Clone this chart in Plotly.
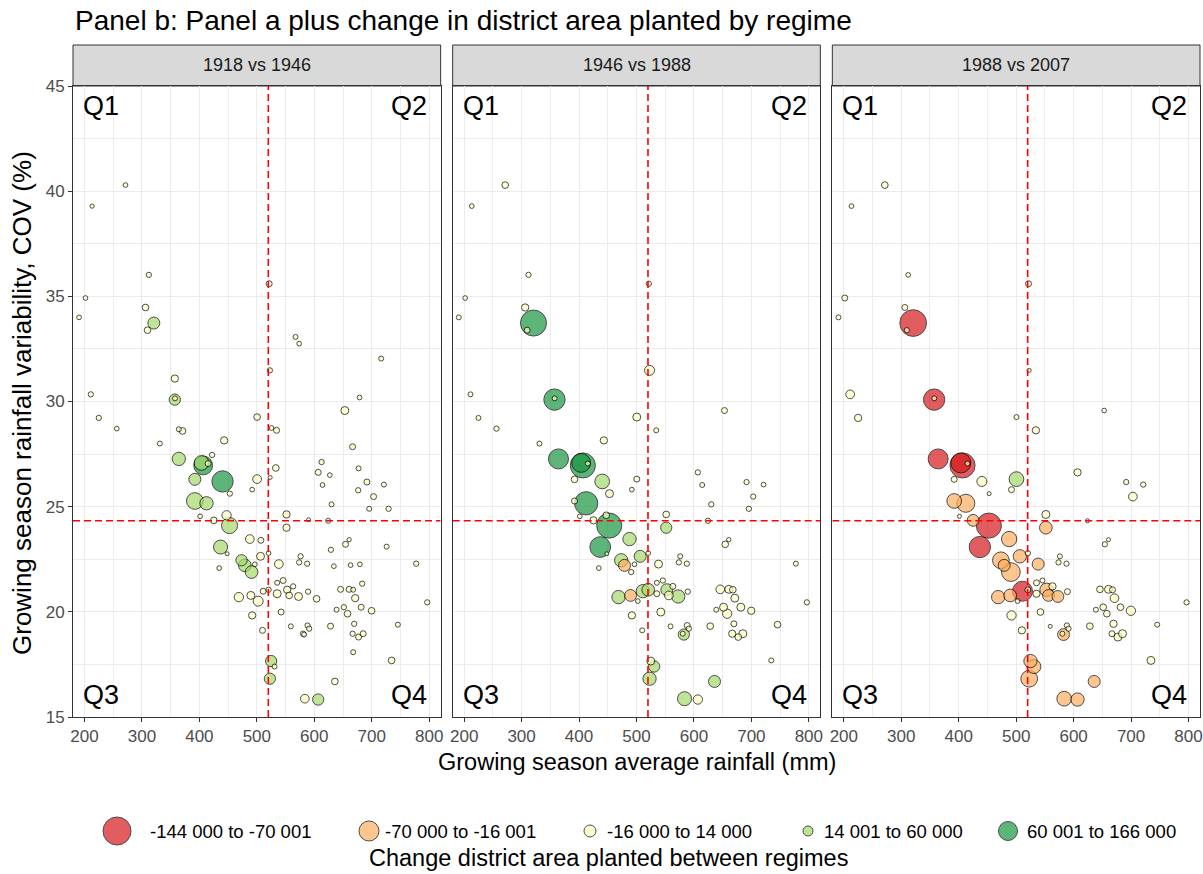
import plotly.graph_objects as go

# District growing-season climate (shared by all regimes)
rain_mm = [
    271.4, 213.3, 312.0, 521.5, 201.7, 190.6, 306.2, 320.7, 309.7, 567.4,
    573.7, 716.5, 522.7, 357.2, 211.0, 357.2, 357.5, 678.8, 653.2, 224.9,
    256.2, 500.5, 525.6, 534.3, 364.2, 370.6, 443.1, 331.1, 666.7, 422.2,
    364.2, 403.7, 406.6, 415.3, 612.7, 606.8, 627.1, 677.1, 533.1, 523.2,
    440.3, 392.1, 500.5, 614.4, 491.9, 691.6, 721.2, 676.4, 453.0, 703.2,
    392.1, 412.4, 630.1, 695.6, 729.3, 401.3, 447.3, 551.7, 425.1, 590.0,
    624.2, 452.5, 551.7, 660.7, 654.4, 487.8, 507.0, 436.8, 448.3, 725.9,
    628.9, 506.4, 520.4, 576.1, 573.7, 587.6, 777.4, 538.3, 473.4, 479.1,
    490.8, 496.5, 434.4, 634.1, 663.2, 679.4, 545.8, 535.4, 563.2, 683.4,
    511.0, 520.4, 552.8, 535.4, 556.3, 572.6, 589.3, 604.0, 645.8, 660.7,
    667.7, 671.2, 468.7, 489.6, 502.3, 491.9, 542.3, 638.8, 651.5, 657.9,
    681.6, 699.7, 796.6, 559.2, 509.9, 588.3, 591.1, 582.4, 580.5, 628.3,
    669.5, 666.7, 677.1, 685.1, 745.5, 667.7, 734.6, 524.9, 530.8, 522.7,
    635.8, 583.6, 606.8,
]
cov_pct = [
    40.29, 39.29, 36.02, 35.60, 34.92, 34.00, 34.47, 33.73, 33.39, 33.07,
    32.75, 32.04, 31.48, 31.09, 30.34, 30.09, 30.15, 30.19, 29.57, 29.22,
    28.71, 29.26, 28.74, 28.63, 28.68, 28.60, 28.15, 28.00, 27.85, 27.46,
    27.27, 27.08, 26.96, 27.05, 27.12, 26.63, 26.50, 26.82, 26.84, 26.39,
    26.20, 26.30, 26.31, 26.03, 25.81, 26.17, 26.05, 25.78, 25.62, 25.48,
    25.27, 25.16, 25.11, 24.90, 24.90, 24.54, 24.59, 24.63, 24.35, 24.38,
    24.33, 24.10, 24.00, 23.43, 23.21, 23.46, 23.40, 23.08, 22.76, 23.10,
    22.95, 22.64, 22.79, 22.64, 22.35, 22.29, 22.29, 22.27, 22.45, 22.21,
    21.89, 22.26, 22.08, 22.17, 22.22, 22.26, 21.49, 21.38, 21.21, 21.34,
    20.98, 21.05, 21.05, 20.86, 20.78, 20.73, 20.96, 20.62, 21.07, 21.07,
    21.05, 20.65, 20.70, 20.78, 20.51, 19.83, 19.99, 20.10, 20.22, 19.91,
    20.22, 20.05, 20.45, 19.31, 19.12, 19.35, 19.20, 18.92, 18.96, 19.32,
    19.43, 18.96, 18.80, 18.96, 19.39, 18.08, 17.69, 17.66, 17.40, 16.82,
    16.69, 15.87, 15.83,
]

# Change in district area planted (ha); None = district not present in that regime
change_1918_1946 = [
    140, 25, 470, 1100, 140, 140, 2000, 17700, -2000, 280,
    140, 280, 470, 3000, 470, 14800, 280, 140, 4400, 470,
    140, 2000, 140, 1100, 280, 2000, 3000, 280, 1100, 470,
    24000, 31700, 61000, 1100, 470, 1100, 140, 280, 2000, 0,
    82900, 17700, 6100, 140, 140, 1100, 280, 470, 470, 1100,
    44700, 24000, 280, 280, 470, 140, 7800, 3000, 2000, 0,
    280, 40000, 3000, 25, 1100, 6100, 1100, 27700, 0, 280,
    470, 4400, 140, 470, 470, 470, 470, 6100, 14800, 21000,
    21000, 140, 140, 140, 140, 140, 1100, 280, 470, 470,
    1100, 470, 3000, 4400, 2000, 4400, 470, 2000, 1100, 1100,
    280, 3000, 7800, 4400, 10000, 3000, 1100, 280, 470, 2000,
    1100, 2000, 470, 280, 1100, 470, 470, 280, 470, 1100,
    470, 470, 1100, 1100, 280, 280, 2000, 14500, 280, 14500,
    2000, 6100, 14800,
]
change_1946_1988 = [
    2000, 140, 470, -470, 140, 280, 3000, 134000, 1100, None,
    None, None, -10000, None, 280, 82900, 280, None, 1100, 280,
    470, -4400, None, 280, None, None, -3000, 280, None, None,
    70900, 61000, 123000, 280, None, 470, None, None, None, None,
    31700, -2000, -1100, 280, 140, 470, 140, None, 4400, 470,
    1100, 103000, 470, 470, None, 140, 2000, -2000, 3000, None,
    470, 123000, 14500, 25, 2000, 24000, None, 77300, 0, None,
    None, 17700, 140, 280, 470, 470, 280, 4400, 24000, -17700,
    470, 140, 140, None, None, None, 470, 280, 1100, None,
    24000, 21000, 17700, 1100, 6100, 24000, 470, None, 6100, 4400,
    2000, 4400, 24000, -17000, 140, 3000, 4400, 280, 4400, 7800,
    4400, 3000, 470, 280, 280, 1100, 470, 14500, 280, 2000,
    1100, 3000, 2000, 4400, 2000, None, 280, 4400, 14500, 24000,
    17700, 27700, 7800,
]
change_1988_2007 = [
    -2000, -140, 140, 1100, -1100, 280, -1100, -142700, -470, None,
    None, None, 0, None, -6100, -82900, -280, None, 140, -3000,
    None, 280, None, -3000, None, None, None, None, None, None,
    -70900, -71000, -123000, -280, None, -3000, None, None, None, None,
    -10000, 1100, 31700, None, -1100, 470, -470, None, 0, -6100,
    -31700, -54300, None, None, None, 0, None, 4400, -17000, None,
    0, -123000, -21000, 0, -470, -35400, None, -82900, None, None,
    None, -24000, -470, 280, -470, 470, None, -17700, -44700, -17700,
    -59900, None, None, None, None, None, 280, -1100, -3000, None,
    -71000, -1100, -24000, -3000, -17000, -17000, -1100, None, -2000, -4400,
    1100, -6100, -24000, -21000, 140, -7800, -2000, 280, -2000, -2000,
    2000, -7800, 470, 0, -3000, 470, -470, -17000, 280, -2000,
    -3000, 1100, -4400, 4400, 280, None, -4400, -24000, -27700, -44700,
    -17700, -31700, -24000,
]

regimes = ["1918 vs 1946", "1946 vs 1988", "1988 vs 2007"]
changes = [change_1918_1946, change_1946_1988, change_1988_2007]

class_labels = ["-144 000 to -70 001", "-70 000 to -16 001", "-16 000 to 14 000",
                "14 001 to 60 000", "60 001 to 166 000"]
class_colors = ["#d7191c", "#fdae61", "#ffffbf", "#a6d96a", "#1a9641"]
class_upper = [-70001, -16001, 14000, 60000, 166000]

rain_split = 520      # mm
cov_split = 24.33     # %

X_RANGE = [180, 820]
Y_RANGE = [15, 45]
W, H = 1203, 874
M_L, M_R, M_T, M_B = 73, 3, 45, 157
PW = W - M_L - M_R
PH = H - M_T - M_B
STRIP_H = 41
GAP = 12
PANEL_W = (PW - 2 * GAP) / 3
FONT = "Liberation Sans, Arial, sans-serif"


def class_of(v):
    for i, up in enumerate(class_upper):
        if v <= up:
            return i
    return len(class_upper) - 1


def marker_size(v):
    return 4 + 1.9 * (abs(v) / 1000) ** 0.5


def px_x(px):
    return (px - M_L) / PW


def px_y(py):
    return (H - M_B - py) / PH


fig = go.Figure()

panel_top = 1 - STRIP_H / PH
domains = []
for k in range(3):
    x0 = k * (PANEL_W + GAP) / PW
    x1 = (k * (PANEL_W + GAP) + PANEL_W) / PW
    domains.append([x0, min(x1, 1.0)])

for k, vals in enumerate(changes):
    pts = [(rain_mm[i], cov_pct[i], v) for i, v in enumerate(vals) if v is not None]
    pts.sort(key=lambda p: -abs(p[2]))
    sfx = "" if k == 0 else str(k + 1)
    fig.add_trace(go.Scatter(
        x=[p[0] for p in pts], y=[p[1] for p in pts],
        mode="markers",
        xaxis="x" + sfx, yaxis="y" + sfx,
        showlegend=False,
        hovertext=[f"{p[2]:,}" for p in pts],
        marker=dict(
            size=[marker_size(p[2]) for p in pts],
            color=[class_colors[class_of(p[2])] for p in pts],
            opacity=0.7,
            line=dict(color="black", width=1),
        ),
    ))

axis_common = dict(
    showgrid=True, gridcolor="#ebebeb", gridwidth=1.3,
    showline=True, linecolor="#333333", linewidth=1, mirror=True,
    zeroline=False, ticks="outside", ticklen=4, tickcolor="#333333",
    tickfont=dict(family=FONT, size=17, color="#4d4d4d"),
    automargin=False, ticklabeloverflow="allow",
)
layout = dict(
    width=W, height=H,
    margin=dict(l=M_L, r=M_R, t=M_T, b=M_B, autoexpand=False),
    paper_bgcolor="white", plot_bgcolor="white",
    font=dict(family=FONT),
    showlegend=False,
)
for k in range(3):
    sfx = "" if k == 0 else str(k + 1)
    layout["xaxis" + sfx] = dict(
        axis_common, domain=domains[k], range=X_RANGE, dtick=100, tick0=0,
        anchor="y" + sfx,
        minor=dict(dtick=50, tick0=0, showgrid=True, gridcolor="#ededed",
                   gridwidth=0.7, ticks=""),
    )
    ya = dict(
        axis_common, domain=[0, panel_top], range=Y_RANGE, dtick=5, tick0=0,
        anchor="x" + sfx,
        minor=dict(dtick=2.5, tick0=0, showgrid=True, gridcolor="#ededed",
                   gridwidth=0.7, ticks=""),
    )
    if k > 0:
        ya.update(showticklabels=False, ticks="", matches="y")
    layout["yaxis" + sfx] = ya
fig.update_layout(**layout)

shapes = []
annotations = []
dash = "7px,4px"
for k in range(3):
    sfx = "" if k == 0 else str(k + 1)
    shapes.append(dict(type="line", xref="x" + sfx, yref="y" + sfx,
                       x0=rain_split, x1=rain_split, y0=Y_RANGE[0], y1=Y_RANGE[1],
                       line=dict(color="#ff0000", width=1.6, dash=dash)))
    shapes.append(dict(type="line", xref="x" + sfx, yref="y" + sfx,
                       x0=X_RANGE[0], x1=X_RANGE[1], y0=cov_split, y1=cov_split,
                       line=dict(color="#ff0000", width=1.6, dash=dash)))
    # facet strip
    shapes.append(dict(type="rect", xref="paper", yref="paper",
                       x0=domains[k][0], x1=domains[k][1], y0=panel_top, y1=1,
                       fillcolor="#d9d9d9", line=dict(color="#333333", width=1),
                       layer="below"))
    annotations.append(dict(xref="paper", yref="paper",
                            x=(domains[k][0] + domains[k][1]) / 2,
                            y=(panel_top + 1) / 2, text=regimes[k], showarrow=False,
                            font=dict(family=FONT, size=18, color="#1a1a1a"),
                            xanchor="center", yanchor="middle"))
    qfont = dict(family=FONT, size=27, color="black")
    for txt, xx, yy, xa, yan in [("Q1", 194, 44.85, "left", "top"),
                                 ("Q2", 800, 44.85, "right", "top"),
                                 ("Q3", 194, 15.25, "left", "bottom"),
                                 ("Q4", 800, 15.25, "right", "bottom")]:
        annotations.append(dict(xref="x" + sfx, yref="y" + sfx, x=xx, y=yy,
                                text=txt, showarrow=False, font=qfont,
                                xanchor=xa, yanchor=yan))

# titles
annotations.append(dict(xref="paper", yref="paper", x=px_x(73), y=px_y(20),
                        text="Panel b: Panel a plus change in district area planted by regime",
                        showarrow=False, xanchor="left", yanchor="middle",
                        font=dict(family=FONT, size=28, color="black")))
annotations.append(dict(xref="paper", yref="paper", x=px_x(637), y=px_y(762),
                        text="Growing season average rainfall (mm)", showarrow=False,
                        xanchor="center", yanchor="middle",
                        font=dict(family=FONT, size=23.5, color="black")))
annotations.append(dict(xref="paper", yref="paper", x=px_x(22), y=px_y(403),
                        text="Growing season rainfall variability, COV (%)",
                        showarrow=False, textangle=-90,
                        xanchor="center", yanchor="middle",
                        font=dict(family=FONT, size=26, color="black")))

# legend keys
key_cx = [117, 369, 590, 808, 1008]
key_d = [28, 20, 12, 10, 19]
label_x = [148, 383, 605, 822, 1025]
key_cy = 831
for i in range(5):
    shapes.append(dict(type="circle", xref="paper", yref="paper",
                       xsizemode="pixel", ysizemode="pixel",
                       xanchor=px_x(key_cx[i]), yanchor=px_y(key_cy),
                       x0=-key_d[i] / 2, x1=key_d[i] / 2,
                       y0=-key_d[i] / 2, y1=key_d[i] / 2,
                       fillcolor=class_colors[i], opacity=0.7,
                       line=dict(color="black", width=1)))
    annotations.append(dict(xref="paper", yref="paper", x=px_x(label_x[i]),
                            y=px_y(key_cy), text=class_labels[i], showarrow=False,
                            xanchor="left", yanchor="middle",
                            font=dict(family=FONT, size=18.5, color="black")))
annotations.append(dict(xref="paper", yref="paper", x=px_x(608), y=px_y(858),
                        text="Change district area planted between regimes",
                        showarrow=False, xanchor="center", yanchor="middle",
                        font=dict(family=FONT, size=23.5, color="black")))

fig.update_layout(shapes=shapes, annotations=annotations)
fig.write_html("out.html")
